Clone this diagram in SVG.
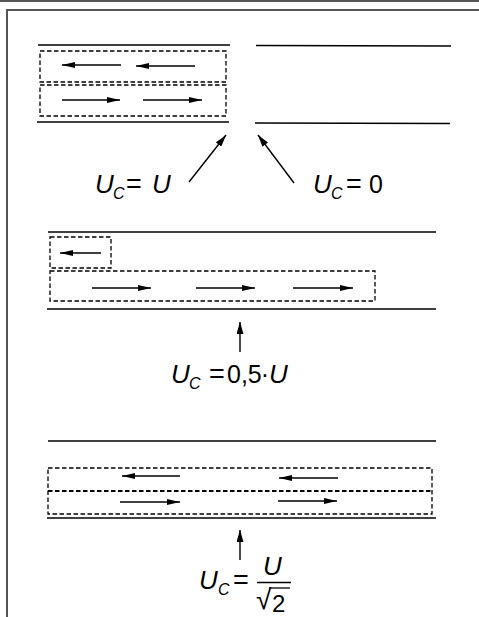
<svg xmlns="http://www.w3.org/2000/svg" width="479" height="617" viewBox="0 0 479 617">
<defs>
<marker id="ah" markerUnits="userSpaceOnUse" markerWidth="13" markerHeight="6" refX="13" refY="3" orient="auto">
<path d="M0,0 L13,3 L0,6 z" fill="#000"/>
</marker>
<marker id="ah2" markerUnits="userSpaceOnUse" markerWidth="12" markerHeight="7" refX="12" refY="3.5" orient="auto">
<path d="M0,0 L12,3.5 L0,7 z" fill="#000"/>
</marker>
<style>
.frame{stroke:#555;stroke-width:2;fill:none}
.wall{stroke:#000;stroke-width:1.4;fill:none}
.box{stroke:#000;stroke-width:1.3;fill:none;stroke-dasharray:4.5,2.5}
.thick{stroke:#000;stroke-width:2.2;fill:none;stroke-dasharray:4.5,2.5}
.flow{stroke:#000;stroke-width:1.4;fill:none;marker-end:url(#ah)}
.ptr{stroke:#000;stroke-width:1.4;fill:none;marker-end:url(#ah2)}
text{font-family:"Liberation Sans",Arial,sans-serif;fill:#000}
.v{font-style:italic;font-size:26px}
.s{font-style:italic;font-size:16px}
.n{font-size:25px}
.e{font-size:27px}
</style>
</defs>
<rect width="479" height="617" fill="#fff"/>
<g id="frame">
<line class="frame" x1="0" y1="1" x2="479" y2="1"/>
<polyline class="frame" points="7,617 7,10 479,10"/>
</g>
<g id="panel1">
<line class="wall" x1="38" y1="45" x2="230" y2="45"/>
<line class="wall" x1="256" y1="45.5" x2="451" y2="46"/>
<line class="wall" x1="37" y1="122" x2="229" y2="122"/>
<line class="wall" x1="255" y1="123" x2="450" y2="123.5"/>
<rect class="box" x="40" y="51" width="186" height="31"/>
<rect class="box" x="40" y="85" width="186" height="31"/>
</g>
<g id="panel2">
<line class="wall" x1="48" y1="232" x2="436" y2="232"/>
<line class="wall" x1="47" y1="309" x2="436" y2="309"/>
<rect class="box" x="50" y="237" width="61" height="31"/>
<rect class="box" x="50" y="271" width="325" height="30"/>
</g>
<g id="panel3">
<line class="wall" x1="48" y1="441" x2="436" y2="441"/>
<line class="wall" x1="47" y1="518" x2="436" y2="518"/>
<rect class="box" x="48" y="468" width="384" height="46"/>
<line class="thick" x1="48" y1="491" x2="432" y2="491"/>
</g>
<g id="connectors">
<line class="flow" x1="121" y1="65" x2="62" y2="65"/>
<line class="flow" x1="195" y1="66" x2="136" y2="66"/>
<line class="flow" x1="62" y1="100" x2="120" y2="100"/>
<line class="flow" x1="143" y1="100" x2="202" y2="100"/>
<line class="ptr" x1="189" y1="182" x2="226" y2="135"/>
<line class="ptr" x1="294" y1="183" x2="258" y2="135"/>
<line class="flow" x1="101" y1="253" x2="60" y2="253"/>
<line class="flow" x1="92" y1="288" x2="151" y2="288"/>
<line class="flow" x1="196" y1="288" x2="255" y2="288"/>
<line class="flow" x1="293" y1="288" x2="353" y2="288"/>
<line class="ptr" x1="240" y1="352" x2="240" y2="322"/>
<line class="flow" x1="180" y1="476" x2="122" y2="476"/>
<line class="flow" x1="338" y1="478" x2="279" y2="478"/>
<line class="flow" x1="120" y1="502" x2="180" y2="502"/>
<line class="flow" x1="278" y1="501" x2="337" y2="501"/>
<line class="ptr" x1="240" y1="560" x2="240" y2="530"/>
</g>
<g id="label1">
<text x="95" y="193" class="v">U</text>
<text x="113" y="199" class="s">C</text>
<text x="126" y="193" class="e">=</text>
<text x="152" y="193" class="v">U</text>
</g>
<g id="label2">
<text x="313" y="193" class="v">U</text>
<text x="331" y="199" class="s">C</text>
<text x="346" y="193" class="e">=</text>
<text x="369" y="193" class="n">0</text>
</g>
<g id="label3">
<text x="171" y="383" class="v">U</text>
<text x="189" y="389" class="s">C</text>
<text x="209" y="383" class="e">=</text>
<text x="227" y="383" class="n">0,5</text>
<text x="265" y="383" class="n" text-anchor="middle">·</text>
<text x="269" y="383" class="v">U</text>
</g>
<g id="label4">
<text x="199" y="589" class="v">U</text>
<text x="218" y="595" class="s">C</text>
<text x="233" y="589" class="e">=</text>
<text x="263" y="575" class="v">U</text>
<line x1="257" y1="582.5" x2="291" y2="582.5" stroke="#000" stroke-width="1.4"/>
<text x="256" y="609" font-size="28">√</text>
<line x1="269" y1="588" x2="290" y2="588" stroke="#000" stroke-width="1.3"/>
<text x="272" y="612" font-size="24">2</text>
</g>
</svg>
